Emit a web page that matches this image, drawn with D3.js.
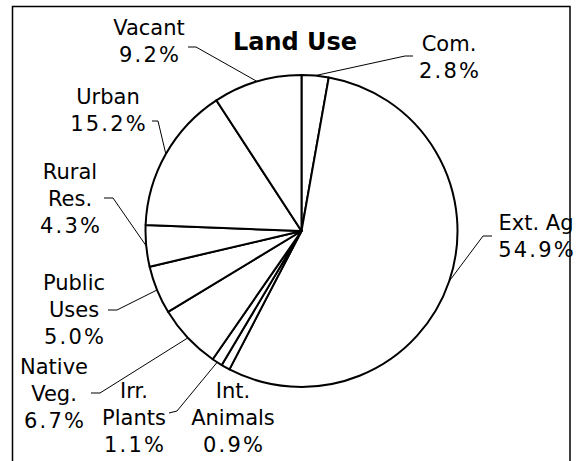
<!DOCTYPE html>
<html>
<head>
<meta charset="utf-8">
<script src="https://cdn.jsdelivr.net/npm/d3@7"></script>
<style>
  html, body { margin: 0; padding: 0; background: #fff; }
  svg { display: block; }
  text { font-family: "DejaVu Sans", Verdana, sans-serif; fill: #000; }
</style>
</head>
<body>
<svg id="chart" width="580" height="461"></svg>
<script>
// Land use shares, in pie order (clockwise from 12 o'clock)
const categories = ["Com.", "Ext. Ag", "Int. Animals", "Irr. Plants", "Native Veg.",
                    "Public Uses", "Rural Res.", "Urban", "Vacant"];
const shares = [2.8, 54.9, 0.9, 1.1, 6.7, 5.0, 4.3, 15.2, 9.2];
// How each category name is broken over lines in its label
const nameLines = [["Com."], ["Ext. Ag"], ["Int.", "Animals"], ["Irr.", "Plants"],
                   ["Native", "Veg."], ["Public", "Uses"], ["Rural", "Res."],
                   ["Urban"], ["Vacant"]];

// Label placement: text centre x, first baseline y, and leader elbow (null = no leader)
const labelLayout = [
  { x: 449, y: 51,  elbow: [[413, 56], [405, 56]] },
  { x: 536, y: 230, elbow: [[492, 236], [483, 236]] },
  { x: 233, y: 398, elbow: null },
  { x: 134, y: 398, elbow: [[169, 413], [177, 411]] },
  { x: 54,  y: 374, elbow: [[91, 393], [100, 393]] },
  { x: 74,  y: 290, elbow: [[108, 310], [117, 310]] },
  { x: 70,  y: 179, elbow: [[104, 198], [113, 198]] },
  { x: 108, y: 104, elbow: [[152, 121], [158, 121]] },
  { x: 149, y: 35,  elbow: [[188, 47], [196, 47]] }
];

const W = 580, H = 461;
const cx = 301.5, cy = 231, radius = 156;
const lineGap = 27;

const svg = d3.select("#chart");

// outer frame
svg.append("rect")
  .attr("x", 12.5).attr("y", 6.5)
  .attr("width", 557.5).attr("height", 470)
  .attr("fill", "none").attr("stroke", "#000").attr("stroke-width", 1.5);

// title
svg.append("text")
  .attr("x", 295).attr("y", 50)
  .attr("text-anchor", "middle")
  .style("font-weight", "bold").style("font-size", "24px")
  .text("Land Use");

const pie = d3.pie().sort(null).value(d => d)
  .startAngle(0).endAngle(2 * Math.PI);
const arcs = pie(shares);

const arc = d3.arc().innerRadius(0).outerRadius(radius);

const g = svg.append("g").attr("transform", `translate(${cx},${cy})`);

g.selectAll("path.slice")
  .data(arcs)
  .join("path")
  .attr("class", "slice")
  .attr("d", arc)
  .attr("fill", "#fff")
  .attr("stroke", "#000")
  .attr("stroke-width", 2)
  .attr("stroke-linejoin", "round");

// point on the rim at the middle of each slice
function rimPoint(a) {
  const m = (a.startAngle + a.endAngle) / 2;
  return [cx + radius * Math.sin(m), cy - radius * Math.cos(m)];
}

// leader lines
arcs.forEach((a, i) => {
  const lay = labelLayout[i];
  if (!lay.elbow) return;
  const pts = [lay.elbow[0], lay.elbow[1], rimPoint(a)];
  svg.append("path")
    .attr("d", d3.line()(pts))
    .attr("fill", "none")
    .attr("stroke", "#000")
    .attr("stroke-width", 1);
});

// labels: name lines followed by the percentage
arcs.forEach((a, i) => {
  const lay = labelLayout[i];
  const t = svg.append("text")
    .attr("text-anchor", "middle")
    .style("font-size", "21px");
  const lines = nameLines[i];
  lines.forEach((ln, k) => {
    t.append("tspan")
      .attr("x", lay.x)
      .attr("y", lay.y + k * lineGap)
      .text(ln);
  });
  t.append("tspan")
    .attr("x", lay.x + 1.1)
    .attr("y", lay.y + lines.length * lineGap)
    .style("letter-spacing", "2.2px")
    .text(d3.format(".1f")(shares[i]) + "%");
});
</script>
</body>
</html>
